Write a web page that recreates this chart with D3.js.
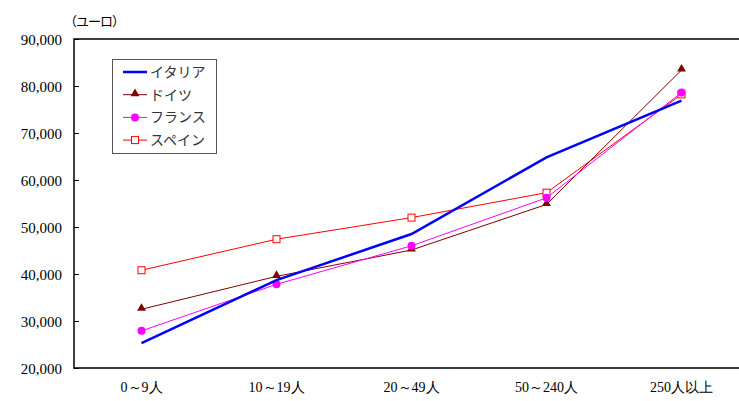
<!DOCTYPE html>
<html>
<head>
<meta charset="utf-8">
<script src="https://cdn.jsdelivr.net/npm/d3@7"></script>
<style>
  body { margin: 0; background: #fff; }
  svg { display: block; }
  text.serif { font-family: "Liberation Serif", "Times New Roman", Times, serif !important; }
</style>
</head>
<body>
<svg id="chart"></svg>
<script>
var categories = ["0～9人", "10～19人", "20～49人", "50～240人", "250人以上"];
var yTicks = [20000, 30000, 40000, 50000, 60000, 70000, 80000, 90000];

var italy   = [25300, 38700, 48500, 64800, 76900];
var germany = [32500, 39500, 45100, 54800, 83400];
var france  = [27900, 37800, 46000, 56200, 78600];
var spain   = [40800, 47400, 52000, 57300, 78200];

var series = [
  { name: "イタリア", values: italy,   color: "#0000ff", width: 2.5, marker: "none" },
  { name: "ドイツ",   values: germany, color: "#800000", width: 1,   marker: "triangle" },
  { name: "フランス", values: france,  color: "#ff00ff", width: 1,   marker: "circle" },
  { name: "スペイン", values: spain,   color: "#ff0000", width: 1,   marker: "square" }
];

var width = 739,
    height = 401,
    plotLeft = 74,
    plotTop = 39,
    plotBottom = 368,
    plotRight = 749;

var svg = d3.select("#chart")
    .attr("width", width)
    .attr("height", height);

var x = d3.scaleBand()
    .domain(categories)
    .range([plotLeft, plotRight]);

var y = d3.scaleLinear()
    .domain([20000, 90000])
    .range([plotBottom, plotTop]);

// frame: top, left and bottom lines (right edge is off the picture)
svg.append("path")
    .attr("d", "M" + (width + 5) + "," + plotTop + "H" + plotLeft + "V" + plotBottom + "H" + (width + 5))
    .style("fill", "none")
    .style("stroke", "#000")
    .style("stroke-width", 1.5);

var yAxis = d3.axisRight(y)
    .tickValues(yTicks)
    .tickSize(5)
    .tickFormat(d3.format(","));

var ya = svg.append("g")
    .attr("transform", "translate(" + plotLeft + ",0)")
    .call(yAxis)
    .attr("font-family", "Liberation Serif")
    .attr("font-size", 15);
ya.select(".domain").remove();
ya.selectAll("line").style("stroke", "#000").style("stroke-width", 1);
ya.selectAll("text")
    .attr("class", "serif")
    .attr("x", -12)
    .attr("text-anchor", "end")
    .attr("dy", "0.35em")
    .style("fill", "#000");

var xAxis = d3.axisBottom(x).tickSize(0);
var xa = svg.append("g")
    .attr("transform", "translate(0," + plotBottom + ")")
    .call(xAxis)
    .attr("font-family", "Liberation Serif")
    .attr("font-size", 14);
xa.select(".domain").remove();
xa.selectAll("text")
    .attr("class", "serif")
    .attr("y", 24)
    .attr("dy", "0")
    .style("fill", "#000");

svg.append("text")
    .attr("x", 64)
    .attr("y", 26)
    .style("font-family", "'Noto Sans CJK JP', sans-serif")
    .style("font-size", "13px")
    .attr("letter-spacing", "-1px")
    .text("（ユーロ）");

var line = d3.line()
    .x(function(d, i) { return x(categories[i]) + x.bandwidth() / 2; })
    .y(function(d) { return y(d); });

function drawMarker(g, type, color, cx, cy) {
  if (type == "triangle") {
    g.append("path")
        .attr("d", d3.symbol().type(d3.symbolTriangle).size(34)())
        .attr("transform", "translate(" + cx + "," + (cy - 1) + ")")
        .style("fill", color);
  } else if (type == "circle") {
    g.append("circle")
        .attr("cx", cx).attr("cy", cy).attr("r", 4)
        .style("fill", color);
  } else if (type == "square") {
    g.append("rect")
        .attr("x", cx - 3.5).attr("y", cy - 3.5)
        .attr("width", 7).attr("height", 7)
        .style("fill", "#fff")
        .style("stroke", color)
        .style("stroke-width", 1);
  }
}

// draw spain first so the others sit on top like the reference
var order = [3, 1, 2, 0];
order.forEach(function(k) {
  var s = series[k];
  var g = svg.append("g");
  g.append("path")
      .datum(s.values)
      .attr("d", line)
      .style("fill", "none")
      .style("stroke", s.color)
      .style("stroke-width", s.width);
  s.values.forEach(function(v, i) {
    drawMarker(g, s.marker, s.color, x(categories[i]) + x.bandwidth() / 2, y(v));
  });
});

// legend
var legend = svg.append("g");
legend.append("rect")
    .attr("x", 112.5).attr("y", 59.5)
    .attr("width", 104).attr("height", 94)
    .style("fill", "#fff")
    .style("stroke", "#555")
    .style("stroke-width", 1);

series.forEach(function(s, i) {
  var ly = 72 + i * 22.7;
  legend.append("line")
      .attr("x1", 123).attr("x2", 147)
      .attr("y1", ly).attr("y2", ly)
      .style("stroke", s.color)
      .style("stroke-width", s.width);
  drawMarker(legend, s.marker, s.color, 135, ly);
  legend.append("text")
      .attr("x", 150)
      .attr("y", ly)
      .attr("dy", "0.35em")
      .style("font-family", "'Noto Sans CJK JP', sans-serif")
      .style("font-size", "14px")
      .style("fill", "#333")
      .text(s.name);
});
</script>
</body>
</html>
